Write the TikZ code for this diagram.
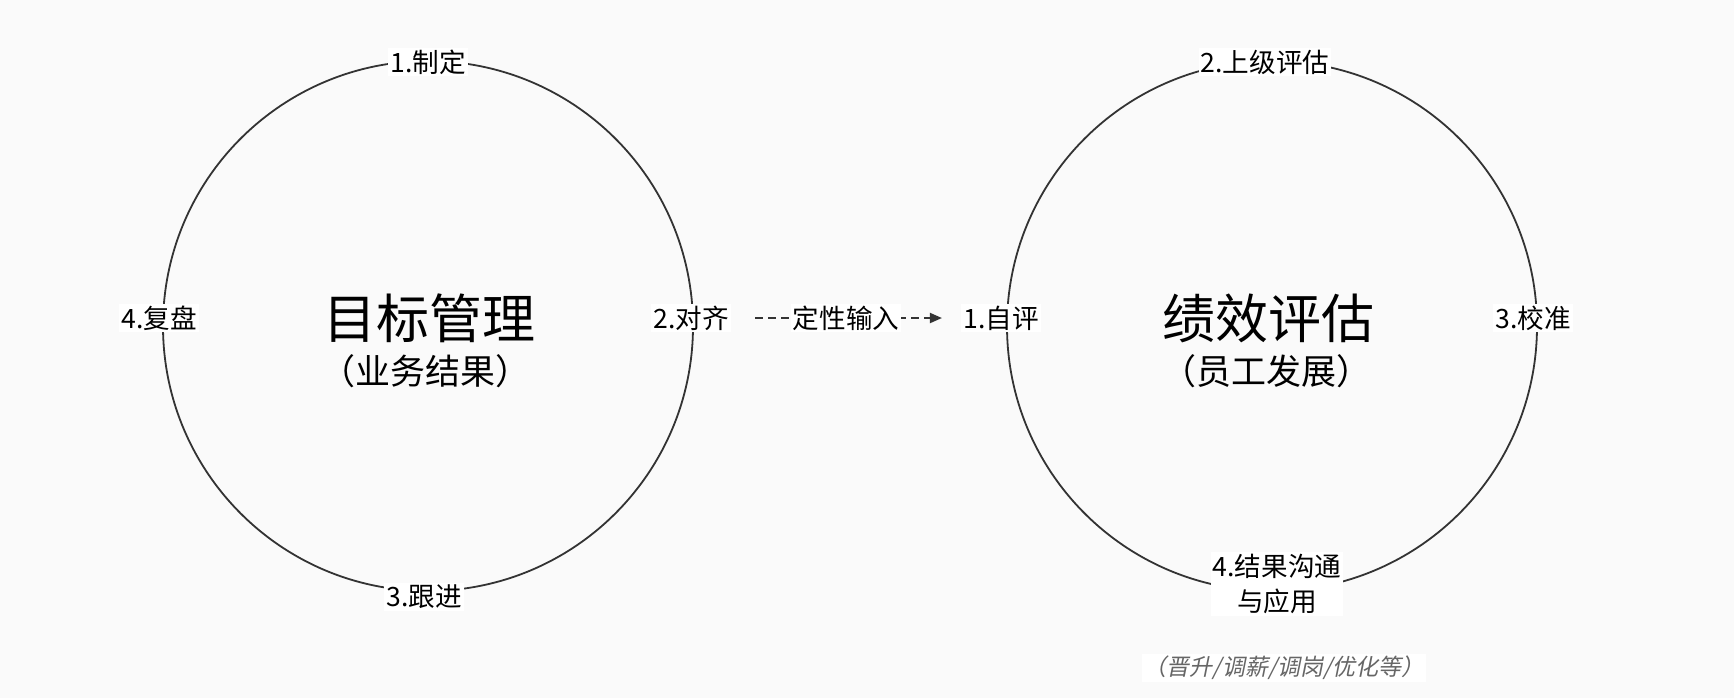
\documentclass[tikz,border=0pt]{standalone}
\usepackage{fontspec}
\setmainfont{Noto Sans CJK SC}
\newfontfamily\slantcjk{Noto Sans CJK SC}[FakeSlant=0.2]
\usetikzlibrary{arrows.meta}
\definecolor{bgpage}{HTML}{FAFAFA}
\definecolor{ringline}{HTML}{333333}
\definecolor{notegray}{HTML}{666666}
\tikzset{
	ring/.style={circle, draw=ringline, line width=0.9pt, minimum size=265pt, inner sep=0pt},
	tag/.style={fill=white, inner sep=1pt, align=center, font=\fontsize{13.3}{17.5}\selectfont},
	bigtitle/.style={inner sep=0pt, font=\fontsize{26.5}{30}\selectfont},
	subtitle/.style={inner sep=0pt, font=\fontsize{17.5}{20}\selectfont},
	flow/.style={draw=ringline, line width=1pt, dash pattern=on 4pt off 2.5pt, -{Triangle[length=6pt,width=5pt]}, shorten <=12pt, shorten >=9.5pt}
}
\begin{document}
\begin{tikzpicture}[x=0.5pt, y=-0.5pt, line join=round]
	\def\cy{326} \def\xl{428} \def\xr{1272} % tâm hai vòng
	\useasboundingbox[fill=bgpage] (0,0) rectangle (1734,698);
	% vòng trái
	\node[ring] (goal) at (\xl,\cy) {};
	\node[bigtitle] (goalT) at (429,318) {目标管理};
	\node[subtitle] (goalS) at (425,371) {（业务结果）};
	\node[tag] (goal1) at (428,62) {1.制定};
	\node[tag] (goal2) at (691,318) {2.对齐};
	\node[tag] (goal3) at (424,597) {3.跟进};
	\node[tag] (goal4) at (159,318) {4.复盘};
	% vòng phải
	\node[ring] (perf) at (\xr,\cy) {};
	\node[bigtitle] (perfT) at (1268,318) {绩效评估};
	\node[subtitle] (perfS) at (1266,371) {（员工发展）};
	\node[tag] (perf1) at (1001,318) {1.自评};
	\node[tag] (perf2) at (1265,62) {2.上级评估};
	\node[tag] (perf3) at (1533,318) {3.校准};
	\node[tag] (perf4) at (1277,584) {4.结果沟通\\与应用};
	\node[inner sep=1pt, fill=white, text=notegray, font=\slantcjk\fontsize{11.5}{14}\selectfont] (note) at (1284,668) {（晋升/调薪/调岗/优化等）};
	% mũi tên nối
	\draw[flow] (goal2) -- node[tag] (input) {定性输入} (perf1);
\end{tikzpicture}
\end{document}
